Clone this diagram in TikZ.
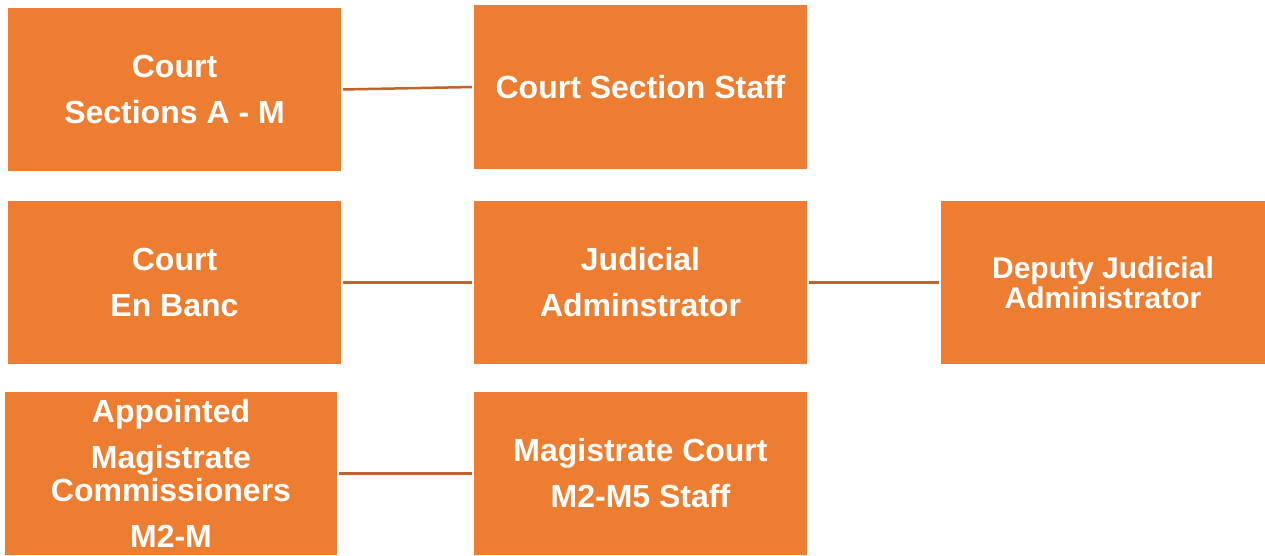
\documentclass[tikz,border=0pt]{standalone}
\usepackage{fontspec}
\setmainfont{Liberation Sans}
\definecolor{boxorange}{HTML}{ED7D31}
\definecolor{lineorange}{HTML}{C0632C}
\begin{document}
\begin{tikzpicture}[x=1pt,y=-1pt,
  orgbox/.style={fill=boxorange,draw=none,inner sep=0pt,text=white,align=center,
    font=\bfseries\fontsize{32}{46}\selectfont},
  link/.style={draw=lineorange,line width=2.5pt,shorten <=2pt,shorten >=2pt}]
\useasboundingbox (0,0) rectangle (1265,555);
\fill[white] (0,0) rectangle (1265,555);
\node[orgbox,minimum width=333pt,minimum height=163pt] (A) at (174.5,89.5) {Court\\Sections A - M};
\node[orgbox,minimum width=333pt,minimum height=164pt] (B) at (640.5,87) {Court Section Staff};
\node[orgbox,minimum width=333pt,minimum height=163pt] (C) at (174.5,282.5) {Court\\En Banc};
\node[orgbox,minimum width=333pt,minimum height=163pt] (D) at (640.5,282.5) {Judicial\\Adminstrator};
\node[orgbox,minimum width=324pt,minimum height=163pt,font=\bfseries\fontsize{30}{30}\selectfont] (E) at (1103,282.5) {Deputy Judicial\\Administrator};
\node[orgbox,minimum width=332pt,minimum height=163pt] (F) at (171,473.5) {Appointed\\Magistrate\\[-13pt]Commissioners\\M2-M};
\node[orgbox,minimum width=333pt,minimum height=163pt] (G) at (640.5,473.5) {Magistrate Court\\M2-M5 Staff};
\draw[link] (A.east) -- (B.west);
\draw[link] (C.east) -- (D.west);
\draw[link] (D.east) -- (E.west);
\draw[link] (F.east) -- (G.west);
\end{tikzpicture}
\end{document}
